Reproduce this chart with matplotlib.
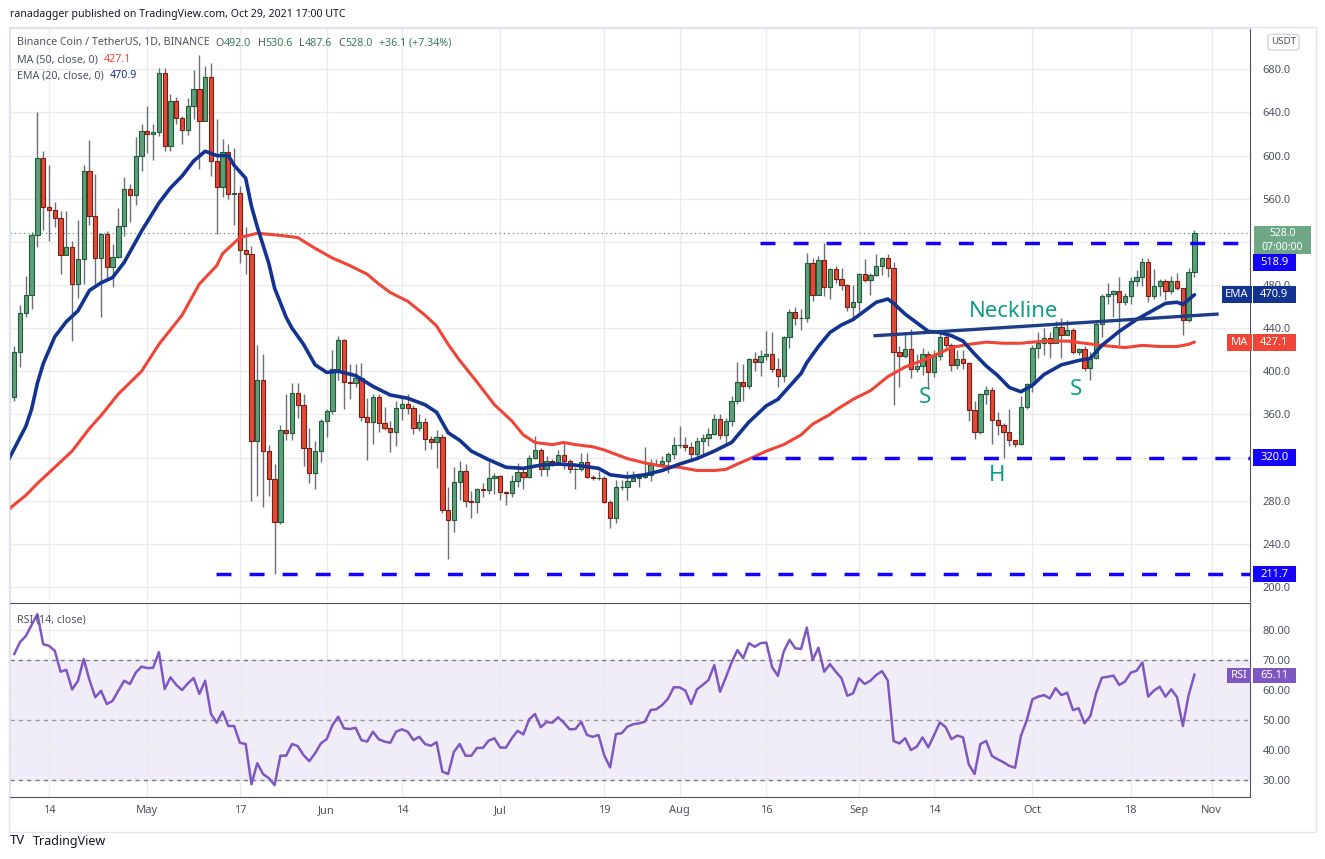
import numpy as np
import matplotlib
matplotlib.use("Agg")
import matplotlib.pyplot as plt
import matplotlib.dates as mdates
from matplotlib.patches import Rectangle, FancyBboxPatch

plt.rcParams['font.family'] = ['Noto Sans', 'DejaVu Sans']
plt.rcParams['lines.scale_dashes'] = False

# ---- data (daily candles, Apr 8 .. Oct 29 2021) ----
start_date = '2021-04-08'
first_open = 376.0
closes = [418, 454, 471, 526, 598, 552,
          550, 542, 508, 515, 481, 504, 586, 544, 505, 527,
          497, 506, 535, 569, 563, 600, 623, 620, 622, 677,
          609, 651, 635, 624, 646, 662, 632, 673, 595, 571,
          603, 564, 565, 512, 509, 335, 392, 326, 300, 260,
          346, 343, 380, 369, 329, 306, 326, 354, 363, 402,
          429, 390, 389, 394, 358, 353, 376, 352, 347, 344,
          366, 370, 366, 347, 353, 337, 334, 339, 271, 262,
          297, 308, 280, 279, 291, 290, 301, 303, 288, 287,
          298, 307, 302, 320, 327, 309, 317, 316, 322, 317,
          309, 309, 316, 302, 301, 301, 279, 264, 293, 293,
          298, 301, 302, 304, 313, 314, 317, 323, 332, 332,
          330, 323, 335, 338, 342, 356, 341, 354, 372, 390,
          386, 411, 409, 414, 416, 402, 396, 432, 455, 449,
          449, 500, 471, 503, 478, 495, 486, 480, 460, 464,
          490, 485, 489, 498, 505, 496, 418, 414, 421, 402,
          405, 416, 399, 414, 432, 424, 406, 411, 408, 364,
          344, 379, 383, 355, 350, 344, 336, 333, 367, 388,
          422, 426, 431, 426, 441, 434, 438, 418, 421, 403,
          412, 444, 470, 472, 474, 464, 470, 484, 487, 501,
          470, 479, 484, 474, 484, 477, 448, 492, 528]
highs = [423, 461, 488, 529, 640, 604,
         591, 557, 549, 549, 521, 540, 591, 614, 583, 528,
         530, 518, 551, 580, 574, 617, 629, 646, 629, 681,
         681, 657, 654, 637, 653, 679, 693, 683, 686, 634,
         615, 611, 607, 572, 534, 516, 424, 416, 332, 314,
         350, 379, 389, 389, 379, 347, 335, 356, 365, 420,
         433, 430, 407, 407, 408, 375, 379, 379, 367, 354,
         372, 375, 379, 369, 360, 357, 340, 346, 342, 293,
         311, 317, 314, 289, 292, 296, 316, 306, 304, 289,
         304, 315, 311, 322, 340, 329, 321, 319, 327, 334,
         319, 311, 324, 324, 304, 308, 303, 281, 299, 299,
         308, 308, 304, 330, 319, 319, 321, 325, 339, 349,
         339, 334, 339, 342, 347, 360, 360, 357, 377, 409,
         407, 412, 418, 420, 437, 436, 412, 433, 458, 460,
         458, 510, 505, 507, 519, 496, 498, 496, 481, 480,
         491, 504, 491, 509, 506, 509, 501, 423, 435, 439,
         416, 422, 419, 420, 438, 437, 426, 420, 420, 409,
         372, 380, 386, 385, 362, 352, 365, 335, 377, 389,
         424, 436, 440, 436, 447, 449, 448, 440, 422, 423,
         418, 446, 472, 482, 475, 487, 473, 487, 494, 505,
         505, 495, 486, 486, 488, 491, 477, 496, 530.6]
lows = [372, 404, 450, 458, 515, 531,
        521, 534, 490, 508, 428, 468, 481, 536, 481, 450,
        486, 478, 505, 525, 538, 554, 586, 602, 596, 618,
        604, 604, 629, 611, 619, 634, 588, 632, 581, 527,
        562, 560, 536, 500, 490, 280, 284, 274, 284, 211.7,
        258, 336, 336, 357, 312, 296, 291, 316, 339, 360,
        392, 365, 374, 385, 354, 318, 333, 344, 346, 325,
        331, 355, 360, 342, 345, 327, 328, 310, 269, 226,
        251, 281, 274, 264, 269, 283, 286, 286, 281, 276,
        283, 293, 291, 301, 319, 303, 303, 312, 313, 309,
        306, 291, 308, 301, 299, 299, 278, 255, 259, 290,
        281, 299, 293, 301, 298, 312, 312, 306, 319, 329,
        326, 317, 320, 323, 331, 341, 337, 333, 349, 370,
        372, 384, 400, 396, 410, 399, 385, 390, 422, 443,
        438, 446, 465, 471, 470, 467, 482, 475, 456, 448,
        455, 483, 471, 488, 489, 487, 369, 385, 412, 394,
        399, 397, 384, 395, 410, 422, 400, 402, 402, 354,
        337, 342, 370, 333, 341, 320, 331, 330, 332, 365,
        381, 412, 415, 412, 427, 412, 434, 416, 415, 400,
        392, 411, 432, 462, 450, 424, 461, 462, 479, 479,
        464, 467, 470, 466, 472, 475, 434, 446, 487.6]
rsi = [72, 76, 78, 81.7, 85.3, 75.3,
       74.7, 73.1, 66.1, 66.7, 60.2, 63, 70.3, 63.3, 57.6, 59.7,
       55.3, 56.4, 59.8, 63.1, 62, 65.8, 67.8, 67.3, 67.4, 72.6,
       60.3, 64.2, 61.7, 60, 62.2, 64, 58.7, 63.1, 52, 49.1,
       52.8, 48, 48, 42.4, 42, 28.6, 35.6, 32, 30.6, 28.3,
       38.1, 38.1, 42, 41.3, 38.3, 36.3, 38.9, 42.2, 43.6, 48.3,
       51.1, 47.2, 47, 47.4, 43.3, 42.8, 46.1, 43.6, 42.8, 42.4,
       46.1, 46.9, 46.1, 43.3, 44.4, 42, 41.4, 42.6, 32.8, 32,
       39.4, 42, 38.1, 38.1, 40.7, 40.7, 43.1, 43.9, 40.8, 40.8,
       43.9, 46.4, 45.2, 50.2, 52, 47.6, 49.3, 49.1, 50.9, 49.1,
       46.9, 47, 49.4, 45, 44.4, 45, 38.1, 34.2, 45.3, 45.6,
       47.8, 48.6, 48.9, 49.4, 53.3, 53.6, 55, 57.1, 60.9, 60.9,
       59.8, 55.3, 60.2, 61.7, 63.3, 68.3, 59.4, 64.2, 69.2, 73.3,
       70.6, 75.6, 74.4, 75.6, 75.8, 67.6, 64.7, 72.8, 76.7, 73.9,
       73.7, 80.8, 70, 74.1, 66.1, 68.6, 66.1, 63.9, 58.1, 58.9,
       63.9, 62, 63.1, 65, 66.3, 63.1, 43, 42.2, 43.9, 40,
       41.1, 44.2, 40.9, 45, 49.2, 47.6, 43.6, 44.8, 44.2, 35.2,
       32, 42, 43, 38, 36.9, 35.9, 34.7, 34.1, 44.7, 49.8,
       56.9, 57.8, 58.3, 57.2, 60.6, 58.3, 59.1, 53.3, 53.9, 48.9,
       51.3, 58.9, 64.1, 64.4, 64.8, 61.7, 62.8, 65.8, 66.4, 69.2,
       57.8, 59.8, 61.1, 57.8, 60.2, 57.6, 48, 58.3, 65.11]

# moving averages (day offset from Apr 14, value)
ema_day = [-7, -4, -3, -2, -1, 1, 3, 5, 7, 9, 11, 13, 16, 19, 21, 23, 25, 27, 29,
           31, 32, 34, 35, 36, 38, 39, 41, 42, 44, 46, 48, 50, 53, 56, 59, 62, 65,
           67, 69, 71, 73, 76, 79, 82, 85, 88, 91, 95, 97, 100, 103, 106, 109, 112,
           115, 118, 121, 124, 126, 128, 130, 131, 133, 135, 137, 139, 141, 143,
           145, 146, 148, 150, 152, 154, 156, 158, 160, 162, 164, 166, 168, 170,
           172, 175, 178, 180, 182, 185, 188, 191, 193, 195, 196, 198]
ema_val = [318, 349, 365, 389, 407, 432, 446, 456, 475, 482, 487, 501, 530, 556,
           570, 581, 595, 604, 600, 600, 591, 579, 553, 534, 500, 477, 450, 440,
           425, 406, 399, 400, 396, 386, 378, 375, 369, 362, 343, 336, 326, 318,
           311, 310, 313, 314, 313, 310, 304, 302, 304, 308, 314, 319, 326, 334,
           353, 368, 374, 386, 398, 408, 423, 436, 443, 448, 456, 464, 467, 463,
           453, 445, 437, 436, 433, 428, 416, 405, 396, 385, 381, 387, 397, 406,
           410, 412, 424, 437, 448, 457, 463, 464, 462, 470.9]
ma_day = [-7, -4, -2, 1, 4, 7, 9, 12, 16, 19, 23, 26, 29, 30, 33, 36, 40, 43, 46,
          49, 52, 55, 57, 59, 62, 65, 67, 69, 71, 74, 77, 80, 82, 84, 87, 89, 91,
          94, 96, 98, 100, 103, 106, 109, 112, 115, 117, 119, 122, 124, 127, 130,
          132, 133, 135, 136, 139, 142, 145, 148, 151, 154, 156, 159, 162, 165,
          168, 170, 172, 176, 179, 182, 186, 189, 192, 195, 197, 198]
ma_val = [272, 285, 296, 311, 326, 347, 359, 379, 400, 425, 452, 481, 498, 509,
          524, 528, 526, 524, 514, 505, 498, 490, 481, 473, 465, 452, 442, 425,
          410, 390, 369, 354, 341, 334, 332, 334, 332, 330, 327, 323, 319, 315,
          312, 311, 308, 308, 309, 314, 321, 326, 332, 341, 351, 354, 360, 364,
          374, 382, 395, 404, 410, 417, 422, 425, 427, 426, 426, 427, 428, 428,
          426, 424, 422, 424, 423, 423, 425, 427.1]

levels = [518.9, 320.0, 211.7]
level_from_day = [122.9, 115.9, 28.9]
level_to_day = [205.5, 207.6, 207.6]
neck_day = [142.8, 201.9]
neck_val = [433, 453]
last_price = 528.0

tick_dates = ['2021-04-14', '2021-05-01', '2021-05-17', '2021-06-01', '2021-06-14',
              '2021-07-01', '2021-07-19', '2021-08-01', '2021-08-16', '2021-09-01',
              '2021-09-14', '2021-10-01', '2021-10-18', '2021-11-01']
tick_labels = ['14', 'May', '17', 'Jun', '14', 'Jul', '19', 'Aug', '16', 'Sep',
               '14', 'Oct', '18', 'Nov']
price_ticks = list(range(200, 681, 40))
rsi_ticks = [30, 40, 50, 60, 70, 80]

# ---- layout helpers (pixel geometry of the screenshot) ----
W, H = 1325, 859
def fx(px):
    return px / W
def fy(py):
    return 1 - py / H

GREEN, GREEN_EDGE = '#5e9e7a', '#1f5c38'
RED, RED_EDGE = '#e04b39', '#7d1d12'
EMA_C, MA_C = '#12338f', '#f04436'
LVL_C = '#1400ff'
TEAL = '#0f9d87'
PURPLE = '#7e57c2'
TXT = '#4c525e'
FS = 7.7

fig = plt.figure(figsize=(W / 100, H / 100), dpi=100)
ax = fig.add_axes([fx(10), fy(601), fx(1250) - fx(10), fy(28) - fy(601)])
rax = fig.add_axes([fx(10), fy(797), fx(1250) - fx(10), fy(603) - fy(797)], sharex=ax)

dates = np.datetime64(start_date) + np.arange(len(closes))
x = mdates.date2num(dates)
apr14 = mdates.date2num(np.datetime64('2021-04-14'))
closes = np.array(closes, float)
opens = np.concatenate([[first_open], closes[:-1]])
highs = np.maximum(np.array(highs, float), np.maximum(opens, closes))
lows = np.minimum(np.array(lows, float), np.minimum(opens, closes))

up = closes >= opens
dn = ~up
ax.vlines(x, lows, highs, color='#6b6e76', lw=1, zorder=2)
ax.bar(x[up], (closes - opens)[up], bottom=opens[up], width=0.74,
       color=GREEN, edgecolor=GREEN_EDGE, lw=0.8, zorder=3)
ax.bar(x[dn], (opens - closes)[dn], bottom=closes[dn], width=0.74,
       color=RED, edgecolor=RED_EDGE, lw=0.8, zorder=3)

ax.plot(apr14 + np.array(ma_day), ma_val, color=MA_C, lw=2.2, zorder=4,
        solid_capstyle='round')
ax.plot(apr14 + np.array(ema_day), ema_val, color=EMA_C, lw=2.6, zorder=4,
        solid_capstyle='round')

for lv, d0, d1 in zip(levels, level_from_day, level_to_day):
    ax.plot([apr14 + d0, apr14 + d1], [lv, lv], color=LVL_C, lw=2.5,
            ls=(0, (10.8, 13)), zorder=5)

ax.plot(apr14 + np.array(neck_day), neck_val, color='#1e3d84', lw=2.4, zorder=5)
ax.axhline(last_price, color='#5f9e7e', lw=0.9, ls=(0, (1, 2.2)), zorder=1)

for d, p, s in [(166.8, 455, 'Neckline'), (151.4, 376, 'S'), (163.9, 303, 'H'),
                (177.5, 383, 'S')]:
    ax.text(apr14 + d, p, s, color=TEAL, fontsize=16, fontweight='bold',
            ha='center', va='center', zorder=6)

# ---- RSI pane ----
rax.axhspan(30, 70, color=PURPLE, alpha=0.1, lw=0, zorder=0)
rax.plot(x, rsi, color=PURPLE, lw=1.8, zorder=4)
for lv, c in [(70, '#787b86'), (50, '#9598a1'), (30, '#787b86')]:
    rax.axhline(lv, color=c, lw=1, ls=(0, (3, 3)), zorder=2)

# ---- axes styling ----
x_left = apr14 - 6.74
x_right = x_left + 1240 / 5.785
ax.set_xlim(x_left, x_right)
ax.set_ylim(680 - (601 - 69.3) / 1.0785, 680 + (69.3 - 28) / 1.0785)
rax.set_ylim(30 - 17 / 3, 80 + 27 / 3)

for a in (ax, rax):
    a.set_facecolor('white')
    a.yaxis.tick_right()
    a.tick_params(axis='y', length=0, pad=9, labelsize=8, labelcolor=TXT)
    a.grid(True, color='#ebebee', lw=1)
    a.set_axisbelow(True)
    a.spines['left'].set_color('#e0e3eb')
    a.spines['right'].set_color('#50535e')

ax.spines['top'].set_color('#e0e3eb')
ax.spines['bottom'].set_visible(False)
rax.spines['top'].set_color('#50535e')
rax.spines['bottom'].set_color('#50535e')

ax.set_yticks(price_ticks)
# the 520 label sits under the last-price tag in the screenshot
ax.set_yticklabels(['' if v == 520 else f'{v:.1f}' for v in price_ticks])
rax.set_yticks(rsi_ticks)
rax.set_yticklabels([f'{v:.2f}' for v in rsi_ticks])
rax.set_xticks(mdates.date2num(np.array(tick_dates, dtype='datetime64[D]')))
rax.set_xticklabels(tick_labels)
ax.tick_params(axis='x', length=0, labelbottom=False)
rax.tick_params(axis='x', length=0, pad=6, labelsize=8, labelcolor=TXT)


def tag(a, y, text, fc, ppu, x0=1252.7, x1=1295.7, h=16.5, fs=8):
    tr = a.get_yaxis_transform()
    ax0 = (x0 - 10) / 1240
    aw = (x1 - x0) / 1240
    a.add_artist(Rectangle((ax0, y - h / 2 / ppu), aw, h / ppu, transform=tr,
                           fc=fc, ec='none', clip_on=False, zorder=10))
    a.text(ax0 + aw / 2, y, text, transform=tr, ha='center', va='center',
           color='white', fontsize=fs, clip_on=False, zorder=11)


PPU = 1.0785
tr = ax.get_yaxis_transform()
ax.add_artist(Rectangle(((1253.7 - 10) / 1240, 521.7 - 14.3 / PPU), 57.3 / 1240, 28.6 / PPU,
                        transform=tr, fc='#6ea886', ec='none', clip_on=False, zorder=10))
ax.text((1282.3 - 10) / 1240, 528.0, '528.0', transform=tr, ha='center', va='center',
        color='white', fontsize=7.5, clip_on=False, zorder=11)
ax.text((1282.3 - 10) / 1240, 515.2, '07:00:00', transform=tr, ha='center', va='center',
        color='white', fontsize=7.5, clip_on=False, zorder=11)
tag(ax, 500.9, '518.9', LVL_C, PPU)
tag(ax, 471.4, '470.9', EMA_C, PPU)
tag(ax, 471.4, 'EMA', EMA_C, PPU, x0=1221.7, x1=1251.7)
tag(ax, 426.8, '427.1', MA_C, PPU)
tag(ax, 426.8, 'MA', MA_C, PPU, x0=1227.3, x1=1251.7)
tag(ax, 320.0, '320.0', LVL_C, PPU)
tag(ax, 212.0, '211.7', LVL_C, PPU)
tag(rax, 64.8, '65.11', PURPLE, 3, x0=1253.3, h=15.6)
tag(rax, 64.8, 'RSI', PURPLE, 3, x0=1227.3, x1=1251.3, h=15.6)

# USDT currency badge
fig.add_artist(FancyBboxPatch((fx(1268), fy(50)), fx(1299) - fx(1268), fy(34.3) - fy(50),
                              boxstyle='round,pad=0,rounding_size=0.003',
                              transform=fig.transFigure, fc='white', ec='#d1d4dc', lw=1))
fig.text(fx(1283.5), fy(42), 'USDT', ha='center', va='center', fontsize=7, color=TXT)

# outer frame of the chart widget
fig.add_artist(Rectangle((fx(9), fy(832)), fx(1316) - fx(9), fy(27) - fy(832),
                         transform=fig.transFigure, fill=False, ec='#e0e3eb', lw=1))


def chain(prev, text, color, gap=0.0):
    return ax.annotate(text, xy=(1, 0), xycoords=prev, xytext=(gap, 0),
                       textcoords='offset points', ha='left', va='bottom',
                       color=color, fontsize=FS, annotation_clip=False)


fig.text(fx(10), fy(15), 'ranadagger published on TradingView.com, Oct 29, 2021 17:00 UTC',
         fontsize=7.6, color='#131722', va='center')

t = fig.text(fx(17), fy(43), 'Binance Coin / TetherUS, 1D, BINANCE', fontsize=FS,
             color=TXT, va='center')
VAL = '#3b7b5a'
for lab, val in [('O', '492.0'), ('H', '530.6'), ('L', '487.6'), ('C', '528.0')]:
    t = chain(t, lab, TXT, gap=4.5)
    t = chain(t, val, VAL)
t = chain(t, '+36.1 (+7.34%)', VAL, gap=4.5)

t = fig.text(fx(17), fy(59.5), 'MA (50, close, 0)', fontsize=FS, color=TXT, va='center')
chain(t, '427.1', MA_C, gap=4.5)
t = fig.text(fx(17), fy(76), 'EMA (20, close, 0)', fontsize=FS, color=TXT, va='center')
chain(t, '470.9', EMA_C, gap=4.5)
t = fig.text(fx(17), fy(620), 'RSI (14, close)', fontsize=FS, color=TXT, va='center')
chain(t, '65.11', PURPLE, gap=4.5)

# TradingView footer
fig.text(fx(10), fy(841), 'TV', fontsize=9.5, fontweight='black', color='#131722', va='center')
fig.text(fx(33), fy(841), 'TradingView', fontsize=9, color='#131722', va='center')

fig.savefig('out.png', dpi=100, facecolor='white')
